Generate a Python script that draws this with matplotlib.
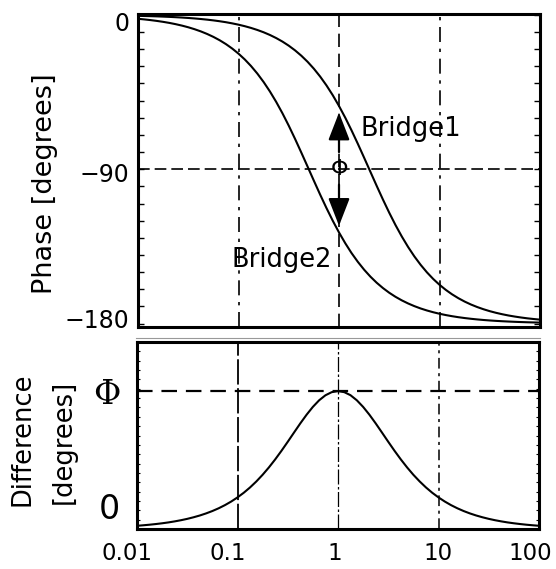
import matplotlib
matplotlib.use("Agg")
import matplotlib.pyplot as plt
from matplotlib.ticker import MultipleLocator, NullFormatter, NullLocator
from matplotlib.transforms import ScaledTranslation

# ---- data ----
freq = [0.01, 0.01155, 0.0133, 0.0154, 0.0178, 0.02054, 0.0237, 0.02738,
        0.0316, 0.03652, 0.0422, 0.0487, 0.0562, 0.06494, 0.075, 0.0866,
        0.1, 0.1155, 0.133, 0.154, 0.178, 0.2054, 0.237, 0.2738,
        0.316, 0.3652, 0.422, 0.487, 0.562, 0.6494, 0.75, 0.866,
        1, 1.155, 1.33, 1.54, 1.78, 2.054, 2.37, 2.738,
        3.16, 3.652, 4.22, 4.87, 5.62, 6.494, 7.5, 8.66,
        10, 11.55, 13.3, 15.4, 17.8, 20.54, 23.7, 27.38,
        31.6, 36.52, 42.2, 48.7, 56.2, 64.94, 75, 86.6, 100]

bridge1 = [-0.57, -0.66, -0.76, -0.88, -1.02, -1.18, -1.36, -1.57,
           -1.81, -2.09, -2.42, -2.79, -3.22, -3.72, -4.29, -4.96,
           -5.72, -6.61, -7.61, -8.81, -10.17, -11.73, -13.52, -15.59,
           -17.96, -20.70, -23.83, -27.37, -31.39, -35.98, -41.11, -46.82,
           -53.13, -60.00, -67.24, -75.20, -83.35, -91.53, -99.68, -107.71,
           -115.35, -122.60, -129.28, -135.34, -140.83, -145.76, -150.14, -154.00,
           -157.38, -160.35, -162.90, -165.20, -167.18, -168.88, -170.35, -171.64,
           -172.76, -173.73, -174.57, -175.30, -175.92, -176.47, -176.95, -177.35, -177.71]

bridge2 = [-2.29, -2.65, -3.05, -3.53, -4.08, -4.70, -5.43, -6.27,
           -7.23, -8.36, -9.65, -11.13, -12.83, -14.80, -17.06, -19.65,
           -22.62, -26.01, -29.79, -34.24, -39.20, -44.67, -50.72, -57.40,
           -64.58, -72.29, -80.34, -88.49, -96.68, -104.82, -112.62, -120.00,
           -126.87, -133.18, -138.81, -144.02, -148.62, -152.64, -156.18, -159.30,
           -162.02, -164.41, -166.48, -168.27, -169.83, -171.20, -172.37, -173.39,
           -174.28, -175.04, -175.69, -176.28, -176.78, -177.21, -177.58, -177.91,
           -178.19, -178.43, -178.64, -178.82, -178.98, -179.12, -179.24, -179.34, -179.43]

difference = [1.72, 1.99, 2.29, 2.65, 3.06, 3.52, 4.07, 4.70,
              5.42, 6.27, 7.23, 8.34, 9.61, 11.08, 12.77, 14.69,
              16.90, 19.40, 22.18, 25.43, 29.03, 32.94, 37.20, 41.81,
              46.62, 51.59, 56.51, 61.12, 65.29, 68.84, 71.51, 73.18,
              73.74, 73.18, 71.57, 68.82, 65.27, 61.11, 56.50, 51.59,
              46.67, 41.81, 37.20, 32.93, 29.00, 25.44, 22.23, 19.39,
              16.90, 14.69, 12.79, 11.08, 9.60, 8.33, 7.23, 6.27,
              5.43, 4.70, 4.07, 3.52, 3.06, 2.65, 2.29, 1.99, 1.72]

phase_ticks = [0, -90, -180]
phase_ticklabels = ["0", "\u221290", "\u2212180"]
x_ticks = [0.01, 0.1, 1, 10, 100]
x_ticklabels = ["0.01", "0.1", "1", "10", "100"]
phi_value = 73.74

W, H = 556, 569
fig = plt.figure(figsize=(W / 100, H / 100), dpi=100)
plt.rcParams['font.family'] = ['DejaVu Sans']

def box(l, t, r, b):
    return [l / W, 1 - b / H, (r - l) / W, (b - t) / H]

def shift(label, dx_px, dy_px):
    label.set_transform(label.get_transform() +
                        ScaledTranslation(dx_px / 100, dy_px / 100, fig.dpi_scale_trans))

ax1 = fig.add_axes(box(138, 14, 540, 327))
ax2 = fig.add_axes(box(137, 342, 539, 529))

for ax in (ax1, ax2):
    ax.set_xscale('log')
    ax.set_xlim(0.01, 100)
    for s in ax.spines.values():
        s.set_linewidth(2.2)
    ax.xaxis.set_minor_locator(NullLocator())
    ax.xaxis.set_minor_formatter(NullFormatter())

# ---- top panel ----
ax1.plot(freq, bridge1, color='black', lw=1.5)
ax1.plot(freq, bridge2, color='black', lw=1.5)
ax1.set_ylim(-182, 0.5)
ax1.set_yticks(phase_ticks)
ax1.set_yticklabels(phase_ticklabels)
ax1.yaxis.set_minor_locator(MultipleLocator(10))
ax1.tick_params(axis='y', which='both', direction='in', length=4, width=1,
                left=True, right=True, labelsize=17, pad=6)
ax1.set_xticks(x_ticks)
ax1.tick_params(axis='x', which='both', length=0, labelbottom=False)
for lab, dy in zip(ax1.get_yticklabels(), [-7, -3, 5]):
    shift(lab, 0, dy)

dashdot = (0, (9, 4, 2, 4))
ax1.axvline(0.1, color='black', lw=1.2, ls=dashdot)
ax1.axvline(10, color='black', lw=1.2, ls=dashdot)
ax1.axvline(1, color='black', lw=1.2, ls=(0, (8, 4)))
ax1.axhline(-90, color='black', lw=1.2, ls=(0, (7, 3)))

arrow_style = '-|>,head_length=0.85,head_width=0.33'
ax1.annotate('', xy=(1, -57), xytext=(1, -80),
             arrowprops=dict(arrowstyle=arrow_style, mutation_scale=20,
                             color='black', lw=1.6, shrinkA=0, shrinkB=0))
ax1.annotate('', xy=(1, -123), xytext=(1, -99),
             arrowprops=dict(arrowstyle=arrow_style, mutation_scale=20,
                             color='black', lw=1.6, shrinkA=0, shrinkB=0))
ax1.text(1, -90, "\u03a6", ha='center', va='center', fontsize=16)
ax1.text(1.62, -66.6, "Bridge1", ha='left', va='center', fontsize=18.5)
ax1.text(0.086, -143.2, "Bridge2", ha='left', va='center', fontsize=18.5)

fig.text(45 / W, 1 - 184 / H, "Phase [degrees]", rotation=90,
         ha='center', va='center', fontsize=19.5)

# ---- bottom panel ----
ax2.plot(freq, difference, color='black', lw=1.5)
ax2.set_ylim(0, 100)
ax2.set_yticks([0, phi_value])
ax2.set_yticklabels(["0", "\u03a6"])
ax2.yaxis.set_minor_locator(MultipleLocator(5))
ax2.tick_params(axis='y', which='minor', direction='in', length=2.5, width=0.8,
                left=True, right=True)
ax2.tick_params(axis='y', which='major', direction='in', length=2.5, width=0.8,
                left=True, right=True, labelsize=24, pad=12)
lab0, labphi = ax2.get_yticklabels()
lab0.set_verticalalignment('bottom')
shift(lab0, 0, 3)
labphi.set_fontfamily('DejaVu Serif')
ax2.set_xticks(x_ticks)
ax2.set_xticklabels(x_ticklabels)
ax2.tick_params(axis='x', which='both', length=0, labelsize=16.5, pad=9)
for lab, dx in zip(ax2.get_xticklabels(), [-10, -10, -3, -1, -9]):
    shift(lab, dx, 0)

ax2.axvline(0.1, color='black', lw=1.3, ls=(0, (14, 2)))
ax2.axvline(1, color='black', lw=0.9, ls=(0, (12, 2, 2, 2)))
ax2.axvline(10, color='black', lw=1.1, ls=(0, (7, 3, 2, 3)))
ax2.axhline(phi_value, color='black', lw=1.6, ls=(0, (7, 4)))

fig.text(23 / W, 1 - 439 / H, "Difference", rotation=90,
         ha='center', va='center', fontsize=18.5)
fig.text(64 / W, 1 - 442 / H, "[degrees]", rotation=90,
         ha='center', va='center', fontsize=18.5)

# faint rule between panels
fig.add_artist(plt.Line2D([136 / W, 540 / W], [1 - 338 / H, 1 - 338 / H],
                          color='0.6', lw=0.8, transform=fig.transFigure))

fig.savefig("out.png", dpi=100)
